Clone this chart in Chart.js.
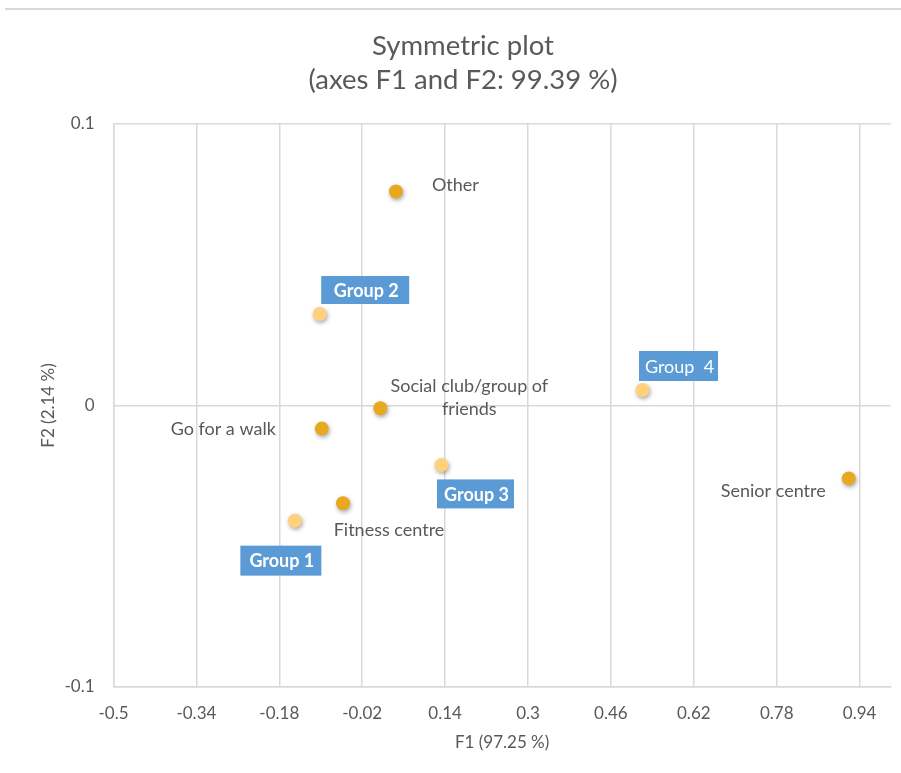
<!DOCTYPE html>
<html><head><meta charset="utf-8">
<script src="https://cdn.jsdelivr.net/npm/chart.js@4.4.0/dist/chart.umd.min.js"></script>
<style>
html,body{margin:0;padding:0;background:#fff;}
#wrap{position:relative;width:901px;height:773px;overflow:hidden;}
#topline{position:absolute;left:5px;right:0;top:8px;height:2px;background:#d9d9d9;}
canvas{position:absolute;left:0;top:0;}
</style>
</head><body>
<div id="wrap"><canvas id="c" width="901" height="773"></canvas><div id="topline"></div></div>
<script>
// ---- data ----
const activityNames = ['Other', ['Social club/group of', 'friends'], 'Go for a walk', 'Fitness centre', 'Senior centre'];
const activityF1 = [0.045, 0.015, -0.098, -0.057, 0.919];
const activityF2 = [0.0760, -0.0010, -0.0082, -0.0347, -0.0259];
const groupNames = ['Group 1', 'Group 2', 'Group 3', 'Group  4'];
const groupF1 = [-0.150, -0.102, 0.133, 0.521];
const groupF2 = [-0.0409, 0.0325, -0.0211, 0.0055];
const xTickValues = [-0.5, -0.34, -0.18, -0.02, 0.14, 0.3, 0.46, 0.62, 0.78, 0.94];
const xTickLabels = ['-0.5', '-0.34', '-0.18', '-0.02', '0.14', '0.3', '0.46', '0.62', '0.78', '0.94'];
const yTickValues = [-0.1, 0, 0.1];
const yTickLabels = ['-0.1', '0', '0.1'];
const titleLines = ['Symmetric plot', '(axes F1 and F2: 99.39 %)'];
const xTitle = 'F1 (97.25 %)';
const yTitle = 'F2 (2.14 %)';

// ---- label styling (offsets in px from the point) ----
const activityLabelStyle = [
  {dx: 36, dy: -6, align: 'left'},
  {dx: 89, dy: -22, align: 'center', lineGap: 23},
  {dx: -46, dy: 1, align: 'right'},
  {dx: 46, dy: 27, align: 'center'},
  {dx: -23, dy: 13, align: 'right'}
];
const groupLabelStyle = [
  {dx: -14, dy: 40, w: 81, h: 30, bold: true},
  {dx: 45.5, dy: -24, w: 88, h: 28, bold: true},
  {dx: 34, dy: 29, w: 77, h: 29, bold: true},
  {dx: 36, dy: -24, w: 79, h: 30, bold: false}
];

const TEXT = '#595959';
const GRID = '#d9d9d9';
const FONT = 'Lato, "Open Sans", sans-serif';

const toPts = (xs, ys) => xs.map((x, i) => ({x: x, y: ys[i]}));

const shadowPlugin = {
  id: 'shadow',
  beforeDatasetsDraw(chart) {
    const ctx = chart.ctx;
    ctx.save();
    ctx.shadowColor = 'rgba(0,0,0,0.35)';
    ctx.shadowBlur = 4;
    ctx.shadowOffsetX = 1;
    ctx.shadowOffsetY = 2;
  },
  afterDatasetsDraw(chart) {
    chart.ctx.restore();
  }
};

const labelPlugin = {
  id: 'pointLabels',
  afterDraw(chart) {
    const ctx = chart.ctx;
    ctx.save();
    ctx.textBaseline = 'middle';
    const m0 = chart.getDatasetMeta(0);
    m0.data.forEach((pt, i) => {
      const st = activityLabelStyle[i];
      const name = activityNames[i];
      const lines = Array.isArray(name) ? name : [name];
      ctx.font = '18px ' + FONT;
      ctx.fillStyle = TEXT;
      ctx.textAlign = st.align;
      lines.forEach((ln, k) => {
        ctx.fillText(ln, pt.x + st.dx, pt.y + st.dy + k * (st.lineGap || 0));
      });
    });
    const m1 = chart.getDatasetMeta(1);
    m1.data.forEach((pt, i) => {
      const st = groupLabelStyle[i];
      const cx = pt.x + st.dx, cy = pt.y + st.dy;
      ctx.fillStyle = '#5b9bd5';
      ctx.fillRect(cx - st.w / 2, cy - st.h / 2, st.w, st.h);
      ctx.fillStyle = '#ffffff';
      ctx.textAlign = 'center';
      ctx.font = (st.bold ? 'bold ' : '') + '18px ' + FONT;
      ctx.fillText(groupNames[i], cx + 1, cy + 1);
    });
    ctx.restore();
  }
};

new Chart(document.getElementById('c'), {
  type: 'scatter',
  data: {
    datasets: [
      {label: 'Activities', data: toPts(activityF1, activityF2), backgroundColor: '#e8a820', borderWidth: 0, pointRadius: 7, pointHoverRadius: 7},
      {label: 'Groups', data: toPts(groupF1, groupF2), backgroundColor: '#ffd17d', borderWidth: 0, pointRadius: 7, pointHoverRadius: 7}
    ]
  },
  options: {
    responsive: false,
    animation: false,
    devicePixelRatio: 1,
    events: [],
    layout: {padding: {top: 29, right: 10.3, bottom: 0, left: 35.3}},
    plugins: {
      legend: {display: false},
      tooltip: {enabled: false},
      title: {
        display: true,
        text: titleLines,
        color: TEXT,
        font: {family: FONT, size: 27.5, weight: 'normal', lineHeight: '34px'},
        padding: {top: 0, bottom: 27}
      }
    },
    scales: {
      x: {
        type: 'linear',
        min: -0.5, max: 1.0,
        afterBuildTicks: (s) => { s.ticks = xTickValues.map(v => ({value: v})); },
        afterFit: (s) => { s.height = 86; },
        ticks: {
          color: TEXT, font: {family: FONT, size: 17}, padding: 16,
          maxRotation: 0, autoSkip: false,
          callback: (v, i) => xTickLabels[i]
        },
        grid: {color: GRID, lineWidth: 1.5, drawTicks: false},
        border: {color: GRID, width: 1.5},
        title: {display: true, text: xTitle, color: TEXT, font: {family: FONT, size: 17}, padding: {top: 0, bottom: 19.8}}
      },
      y: {
        type: 'linear',
        min: -0.1, max: 0.1,
        afterBuildTicks: (s) => { s.ticks = yTickValues.map(v => ({value: v})); },
        afterFit: (s) => { s.width = 78.2; },
        ticks: {
          color: TEXT, font: {family: FONT, size: 17}, padding: 19,
          autoSkip: false,
          callback: (v, i) => yTickLabels[i]
        },
        grid: {color: GRID, lineWidth: 1.5, drawTicks: false},
        border: {color: GRID, width: 1.5},
        title: {display: true, text: yTitle, color: TEXT, font: {family: FONT, size: 17}, padding: {top: 3.5, bottom: 0}}
      }
    }
  },
  plugins: [shadowPlugin, labelPlugin]
});
</script>
</body></html>
